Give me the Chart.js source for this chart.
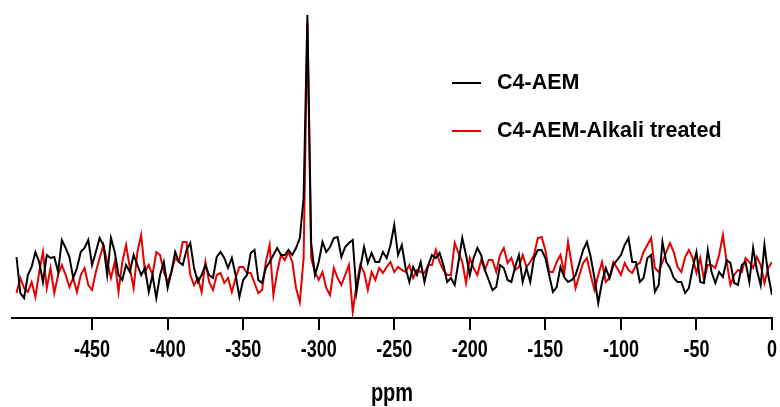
<!DOCTYPE html>
<html>
<head>
<meta charset="utf-8">
<script src="https://cdn.jsdelivr.net/npm/chart.js@4"></script>
<style>
  html, body { margin: 0; padding: 0; background: #fff; }
  canvas { display: block; }
</style>
</head>
<body>
<canvas id="c" width="780" height="407"></canvas>
<script>
const c4aem = [
  61,25,20,43,51,66,56,36,63,60, 61,46,78,70,61,40,50,66,70,78,
  53,66,80,73,43,80,66,43,38,53, 46,63,53,43,50,26,43,20,43,56,
  30,46,66,56,53,68,75,50,36,43, 53,43,40,61,66,60,50,60,43,21,
  38,43,65,68,38,35,50,56,63,70, 63,63,68,63,70,80,120,303,75,43,
  56,76,66,71,80,81,61,71,75,78, 26,50,71,55,65,56,56,66,60,73,
  93,63,73,50,36,51,43,56,36,53, 63,60,65,53,36,40,33,56,80,
  63,43,60,70,63,48,38,28,31,53, 50,38,36,51,63,36,50,36,60,68,
  68,60,43,26,31,51,41,36,38,43, 55,68,76,61,40,15,36,50,40,53,
  58,63,73,80,56,56,36,40,60,63, 26,33,76,56,50,40,36,36,25,30,
  50,66,36,35,68,46,35,46,41,58, 55,35,33,53,56,36,70,48,33,73,
  43,23
];
const c4aemAlkali = [
  25,40,30,26,36,21,46,66,30,50, 25,43,53,43,31,40,26,43,50,33,
  28,46,60,73,56,40,56,26,56,73, 50,30,66,83,46,53,43,66,63,46,
  36,46,60,56,76,76,43,33,40,26, 56,36,28,43,45,35,40,26,40,51,
  51,45,45,35,25,28,56,73,23,46, 63,58,66,56,30,16,60,295,60,46,
  38,46,30,23,50,40,33,43,53,6, 33,53,46,28,46,38,50,45,51,56,
  46,51,48,46,53,40,48,46,45,53, 53,68,56,48,43,43,75,65,56,
  35,60,50,43,58,48,58,58,46,63, 70,55,60,48,51,63,51,56,63,80,
  81,68,46,46,56,63,45,76,53,30, 43,55,60,43,28,43,56,36,40,56,
  50,43,55,48,45,53,55,66,73,80, 50,46,56,66,75,66,51,46,61,68,
  60,45,60,38,53,53,50,63,83,56, 33,43,48,46,60,56,50,61,53,35,
  50,56
];
const ppmStart = -500, ppmStep = 2.5;
const ppm = c4aem.map((_, i) => ppmStart + i * ppmStep);
const seriesNames = ['C4-AEM', 'C4-AEM-Alkali treated'];
const seriesColors = ['#000000', '#e60000'];
const xTicks = [-450, -400, -350, -300, -250, -200, -150, -100, -50, 0];
const xTitle = 'ppm';

const FONT = '"Liberation Sans", Arial, sans-serif';

function drawText(ctx, text, x, y, size, align, stretch) {
  ctx.save();
  ctx.translate(x, y);
  ctx.scale(1, stretch);
  ctx.font = 'bold ' + size + 'px ' + FONT;
  ctx.textAlign = align;
  ctx.textBaseline = 'middle';
  ctx.fillStyle = '#000';
  ctx.fillText(text, 0, 0);
  ctx.restore();
}

// tick labels, axis title and legend, drawn by hand
const textPlugin = {
  id: 'texts',
  afterDraw(chart) {
    const ctx = chart.ctx;
    const xs = chart.scales.x;
    // axis numbers in the original are tall and narrow
    xTicks.forEach(v => drawText(ctx, String(v), xs.getPixelForValue(v), 350, 18, 'center', 1.38));
    const area = chart.chartArea;
    drawText(ctx, xTitle, (area.left + area.right) / 2, 394, 20, 'center', 1.3);

    chart.data.datasets.forEach((ds, i) => {
      const y = 83 + i * 48;
      ctx.save();
      ctx.strokeStyle = ds.borderColor;
      ctx.lineWidth = 2;
      ctx.beginPath();
      ctx.moveTo(452, y);
      ctx.lineTo(481, y);
      ctx.stroke();
      ctx.restore();
      drawText(ctx, ds.label, 497, y, 21.5, 'left', 1);
    });
  }
};

new Chart(document.getElementById('c'), {
  type: 'line',
  data: {
    datasets: [
      { label: seriesNames[0], data: ppm.map((x, i) => ({ x, y: c4aem[i] })),
        borderColor: seriesColors[0], borderWidth: 2 },
      { label: seriesNames[1], data: ppm.map((x, i) => ({ x, y: c4aemAlkali[i] })),
        borderColor: seriesColors[1], borderWidth: 2 }
    ]
  },
  options: {
    responsive: false,
    animation: false,
    layout: { padding: { left: 12, right: 8, top: 12, bottom: 77 } },
    elements: { point: { radius: 0 }, line: { tension: 0 } },
    plugins: { legend: { display: false }, tooltip: { enabled: false } },
    scales: {
      x: {
        type: 'linear',
        min: -503,
        max: 0,
        afterBuildTicks(scale) {
          scale.ticks = xTicks.map(v => ({ value: v }));
        },
        border: { color: '#000', width: 2 },
        grid: { drawOnChartArea: false, drawTicks: true, tickLength: 12, color: '#000', lineWidth: 2 },
        ticks: { display: false },
        title: { display: false }
      },
      y: { display: false, min: 0, max: 306 }
    }
  },
  plugins: [textPlugin]
});
</script>
</body>
</html>
